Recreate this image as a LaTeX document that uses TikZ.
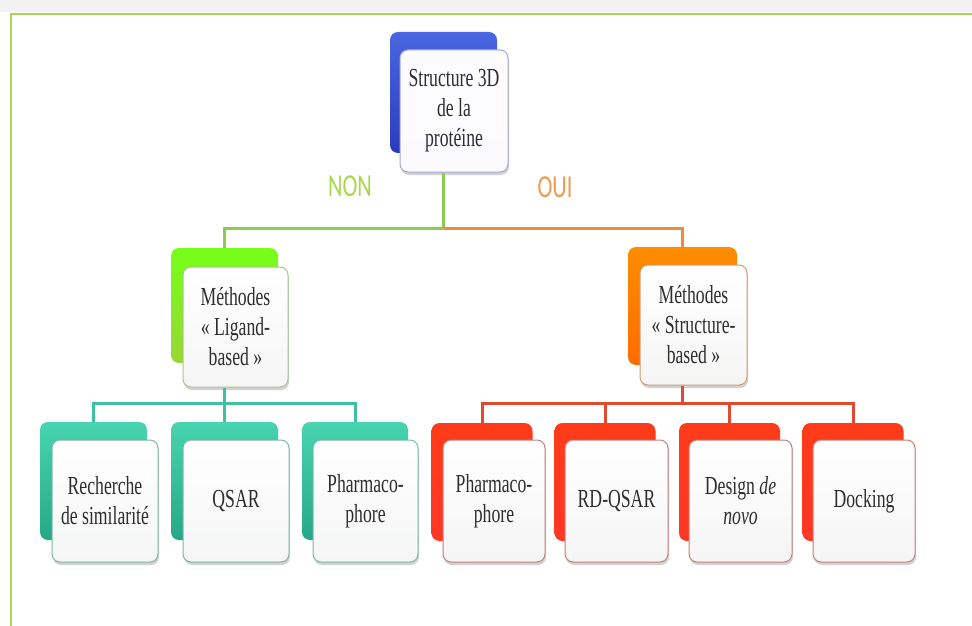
\documentclass[tikz,border=0pt]{standalone}
\usepackage{fontspec}
\newfontfamily\nf[FakeStretch=0.68]{Liberation Serif}
\newfontfamily\lf[FakeStretch=0.7]{Carlito}
\usetikzlibrary{shadows}
\definecolor{txt}{HTML}{2E2E2E}
\definecolor{frameg}{HTML}{A8D45E}
\definecolor{cgreen}{HTML}{8CCC50}
\definecolor{corange}{HTML}{F08A40}
\definecolor{cteal}{HTML}{3FC0A0}
\definecolor{cred}{HTML}{E04A30}
\definecolor{labnon}{HTML}{A8D84C}
\definecolor{laboui}{HTML}{EE9A50}
\definecolor{bluetop}{HTML}{4A66E0}
\definecolor{bluebot}{HTML}{2A3CBE}
\definecolor{tealtop}{HTML}{48D4B0}
\definecolor{tealbot}{HTML}{26A888}
\begin{document}
\begin{tikzpicture}[x=1pt,y=-1pt,
  back/.style={rounded corners=8pt, draw=none, minimum height=118pt, inner sep=0pt},
  front/.style={rounded corners=8pt, line width=1pt, minimum height=122pt, inner sep=2pt,
     align=center, font=\nf\fontsize{26}{30}\selectfont, text=txt,
     drop shadow={shadow xshift=1pt, shadow yshift=-3pt, opacity=0.35}},
  fblue/.style={front, draw=black!45!blue!35, top color=white!85!blue!8, bottom color=white!88!blue!12},
  fgreen/.style={front, draw=cgreen!60!gray!70, top color=white, bottom color=green!5!gray!8},
  forange/.style={front, draw=corange!60!gray!80, top color=white, bottom color=orange!6!gray!8},
  fteal/.style={front, draw=cteal!60!gray!80, top color=white, bottom color=cteal!6!gray!8},
  fred/.style={front, draw=cred!55!gray!80, top color=white, bottom color=cred!6!gray!8},
  bblue/.style={back, top color=bluetop, bottom color=bluebot},
  bgreen/.style={back, top color=green!60!yellow!90, bottom color=green!60!black!50!yellow!80},
  borange/.style={back, top color=orange!90!yellow, bottom color=orange!85!red},
  bteal/.style={back, top color=tealtop, bottom color=tealbot},
  bred/.style={back, top color=red!70!orange!90, bottom color=red!85!orange!85},
  conn/.style={line width=3pt, draw=#1},
  lab/.style={font=\lf\fontsize{32}{34}\selectfont, text=#1}
]
\useasboundingbox (0,0) rectangle (972,626);
\fill[white] (0,0) rectangle (972,626);
\fill[black!5] (0,0) rectangle (972,12);
\draw[line width=2pt, frameg] (11,626) -- (11,14) -- (972,14);

% back boxes
\node[bblue, minimum width=107pt, minimum height=121pt] (rootb) at (443.5,92.5) {};
\node[bgreen, minimum width=107pt, minimum height=115pt] (lmb) at (224.5,305.5) {};
\node[borange, minimum width=109pt, minimum height=118pt] (rmb) at (682.5,306) {};
\node[bteal, minimum width=107pt] (l1b) at (93.5,481) {};
\node[bteal, minimum width=107pt] (l2b) at (224.5,481) {};
\node[bteal, minimum width=106pt] (l3b) at (355,481) {};
\node[bred, minimum width=101pt] (r1b) at (482,482) {};
\node[bred, minimum width=101pt] (r2b) at (605,482) {};
\node[bred, minimum width=101pt] (r3b) at (729.5,482) {};
\node[bred, minimum width=101pt] (r4b) at (853,482) {};

% front boxes
\node[fblue, minimum width=108pt] (rootf) at (454,111) {Structure 3D\\de la\\protéine};
\node[fgreen, minimum width=105pt, minimum height=120pt] (lmf) at (235.5,327) {Méthodes\\« Ligand-\\based »};
\node[forange, minimum width=107pt, minimum height=120pt] (rmf) at (693.5,325) {Méthodes\\« Structure-\\based »};
\node[fteal, minimum width=106pt] (l1f) at (105,501) {Recherche\\de similarité};
\node[fteal, minimum width=106pt] (l2f) at (236,501) {QSAR};
\node[fteal, minimum width=105pt] (l3f) at (365.5,501) {Pharmaco-\\phore};
\node[fred, minimum width=102pt] (r1f) at (494,501) {Pharmaco-\\phore};
\node[fred, minimum width=103pt] (r2f) at (616.5,501) {RD-QSAR};
\node[fred, minimum width=103pt] (r3f) at (740.5,501) {Design \textit{de}\\\textit{novo}};
\node[fred, minimum width=102pt] (r4f) at (864,501) {Docking};

% connectors
\coordinate (j1) at (443.5,228);
\coordinate (j2) at (224.5,403);
\coordinate (j3) at (682.5,403);
\draw[conn=cgreen] (rootf.south -| rootb.center) -- (j1);
\draw[conn=cgreen] (j1) -| (lmb.north);
\draw[conn=corange] (j1) -| (rmb.north);
\draw[conn=cteal] (lmf.south -| lmb.center) -- (j2);
\draw[conn=cteal] (j2) -| (l1b.north);
\draw[conn=cteal] (j2) -| (l3b.north);
\draw[conn=cteal] (j2) -- (l2b.north);
\draw[conn=cred] (rmf.south -| rmb.center) -- (j3);
\draw[conn=cred] (j3) -| (r1b.north);
\draw[conn=cred] (j3) -| (r2b.north);
\draw[conn=cred] (j3) -| (r3b.north);
\draw[conn=cred] (j3) -| (r4b.north);

% labels
\node[lab=labnon] (non) at (350,186) {NON};
\node[lab=laboui] (oui) at (555,187) {OUI};
\end{tikzpicture}
\end{document}
